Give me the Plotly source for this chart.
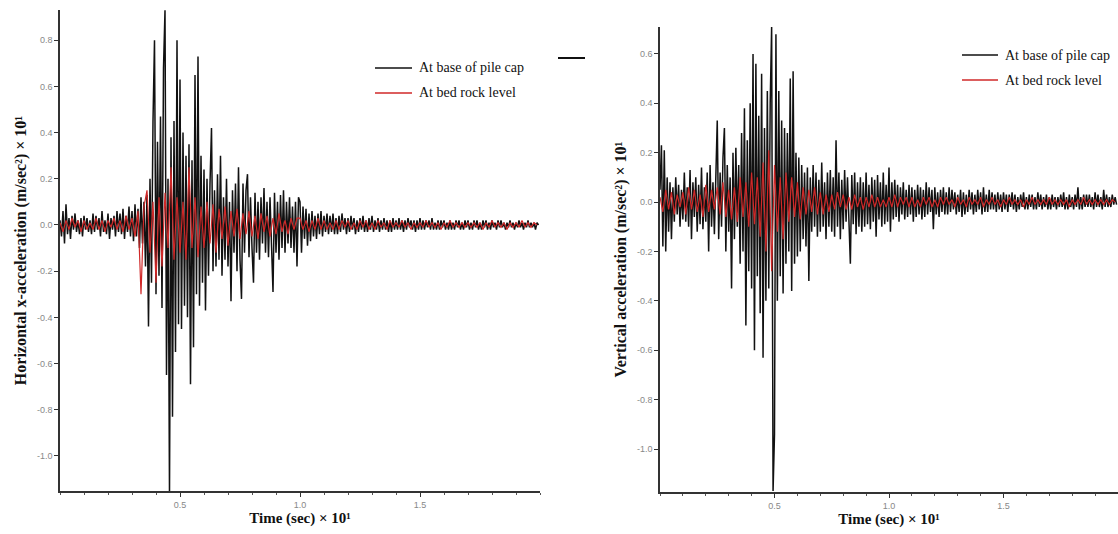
import numpy as np
import plotly.graph_objects as go

# Acceleration time histories (Time in sec x 10^1, acceleration in m/sec^2 x 10^1)
DT_CAP = 0.00625   # sampling step of the pile-cap records
DT_ROCK = 0.0125   # sampling step of the bed-rock records

horiz_cap = [
    0.02, -0.05, 0.06, -0.08, 0.09, -0.04, 0.03, -0.06, 0.04, -0.02, 0.05, -0.03, 0.02, -0.04, 0.03, -0.05, 0.04, -0.02, 0.03, -0.03,
    0.02, -0.04, 0.05, -0.03, 0.04, -0.02, 0.03, -0.05, 0.06, -0.03, 0.02, -0.04, 0.05, -0.06, 0.03, -0.02, 0.04, -0.05, 0.06, -0.03,
    0.05, -0.04, 0.07, -0.06, 0.04, -0.03, 0.08, -0.05, 0.06, -0.07, 0.09, -0.05, 0.07, -0.10, 0.12, -0.08, 0.10, -0.18, 0.13, -0.44,
    0.20, -0.25, 0.45, 0.80, -0.30, 0.36, -0.22, 0.47, -0.36, 0.68, 0.93, -0.65, 0.20, -1.16, 0.38, -0.83, 0.45, -0.55, 0.80, -0.43,
    0.63, -0.45, 0.40, -0.35, 0.30, -0.40, 0.35, -0.69, 0.28, -0.53, 0.65, -0.30, 0.73, -0.35, 0.30, -0.25, 0.24, -0.37, 0.20, -0.22,
    0.18, 0.42, -0.20, 0.15, -0.18, 0.22, -0.15, 0.30, -0.22, 0.12, -0.15, 0.20, -0.18, 0.10, -0.33, 0.15, -0.12, 0.18, -0.20, 0.25,
    -0.15, -0.32, 0.18, -0.12, 0.15, 0.22, -0.14, 0.12, -0.10, -0.25, 0.14, -0.12, 0.10, -0.15, 0.12, -0.08, 0.16, -0.12, 0.10, -0.14,
    0.12, -0.10, -0.29, 0.14, -0.12, 0.10, -0.15, 0.13, -0.10, 0.15, -0.12, 0.10, -0.08, 0.12, -0.10, 0.08, -0.12, 0.10, -0.18, 0.12,
    0.10, -0.12, 0.08, -0.06, 0.07, -0.09, 0.05, -0.07, 0.06, -0.05, 0.04, -0.06, 0.05, -0.04, 0.06, -0.05, 0.04, -0.03, 0.05, -0.04,
    0.04, -0.03, 0.05, -0.04, 0.03, -0.04, 0.04, -0.03, 0.05, -0.02, 0.03, -0.04, 0.03, -0.03, 0.04, -0.02, 0.03, -0.04, 0.02, -0.03,
    0.03, -0.02, 0.04, -0.03, 0.02, -0.03, 0.03, -0.02, 0.04, -0.03, 0.02, -0.02, 0.03, -0.03, 0.02, -0.02, 0.03, -0.02, 0.02, -0.03,
    0.02, -0.03, 0.03, -0.02, 0.02, -0.02, 0.03, -0.02, 0.02, -0.03, 0.02, -0.02, 0.03, -0.01, 0.02, -0.02, 0.02, -0.03, 0.02, -0.02,
    0.03, -0.02, 0.02, -0.02, 0.02, -0.01, 0.02, -0.02, 0.03, -0.02, 0.01, -0.02, 0.02, -0.02, 0.02, -0.01, 0.02, -0.02, 0.01, -0.02,
    0.02, -0.02, 0.01, -0.02, 0.02, -0.01, 0.02, -0.02, 0.01, -0.02, 0.02, -0.01, 0.02, -0.02, 0.01, -0.02, 0.02, -0.01, 0.02, -0.02,
    0.01, -0.02, 0.02, -0.01, 0.02, -0.02, 0.01, -0.02, 0.02, -0.01, 0.01, -0.02, 0.02, -0.01, 0.02, -0.01, 0.01, -0.02, 0.01, -0.01,
    0.02, -0.01, 0.01, -0.02, 0.01, -0.01, 0.02, -0.01, 0.01, -0.02, 0.01, -0.01, 0.02, -0.01, 0.01, -0.01, 0.01, -0.02, 0.01, 0.00,
]

horiz_rock = [
    0.01, -0.03, 0.02, -0.02, 0.03, -0.01, 0.02, -0.03, 0.02, -0.02, 0.01, -0.02, 0.03, -0.02, 0.02, -0.03, 0.02, -0.01, 0.03, -0.02,
    0.02, -0.03, 0.04, -0.02, 0.03, -0.05, 0.06, -0.30, 0.08, 0.15, -0.12, 0.10, -0.25, 0.12, -0.18, 0.14, -0.10, 0.25, -0.15, 0.12,
    -0.12, 0.10, -0.15, 0.25, -0.10, 0.12, -0.14, 0.08, -0.10, 0.10, -0.08, 0.09, -0.12, 0.07, -0.06, 0.08, -0.09, 0.06, -0.05, 0.07,
    -0.06, 0.05, -0.04, 0.06, -0.05, 0.04, -0.06, 0.05, -0.03, 0.04, -0.05, 0.03, -0.04, 0.05, -0.03, 0.02, -0.04, 0.03, -0.02, 0.03,
    0.03, -0.02, 0.02, -0.03, 0.02, -0.02, 0.03, -0.02, 0.02, -0.02, 0.01, -0.02, 0.02, -0.02, 0.02, -0.01, 0.02, -0.02, 0.01, -0.02,
    0.02, -0.01, 0.02, -0.02, 0.01, -0.02, 0.02, -0.01, 0.01, -0.02, 0.02, -0.01, 0.01, -0.01, 0.02, -0.01, 0.01, -0.02, 0.01, -0.01,
    0.01, -0.01, 0.02, -0.01, 0.01, -0.01, 0.01, -0.02, 0.01, -0.01, 0.02, -0.01, 0.01, -0.01, 0.01, -0.01, 0.01, -0.01, 0.01, -0.01,
    0.01, -0.02, 0.01, -0.01, 0.02, -0.01, 0.01, -0.01, 0.01, -0.02, 0.01, -0.01, 0.01, -0.01, 0.02, -0.01, 0.01, -0.01, 0.01, 0.00,
]

vert_cap = [
    0.05, 0.23, -0.18, 0.21, -0.20, 0.10, -0.12, 0.08, -0.15, 0.06, -0.08, 0.10, -0.05, 0.07, -0.10, 0.05, -0.07, 0.12, -0.08, 0.06,
    -0.10, 0.13, -0.15, 0.08, -0.06, 0.10, -0.12, 0.07, -0.09, 0.14, -0.11, 0.06, -0.08, 0.12, -0.20, 0.15, -0.10, 0.08, -0.13, 0.18,
    0.33, -0.15, 0.12, -0.10, 0.18, 0.30, -0.20, 0.15, -0.12, 0.10, -0.35, 0.20, -0.15, 0.22, -0.10, 0.15, -0.25, 0.28, -0.20, 0.38,
    -0.50, 0.25, -0.28, 0.40, -0.35, 0.60, -0.60, 0.56, -0.30, 0.35, -0.45, 0.52, -0.63, 0.30, -0.40, 0.45, -0.35, 0.40, 0.71, -1.17,
    -0.94, 0.68, -0.40, 0.45, -0.30, 0.33, -0.37, 0.30, -0.25, 0.28, -0.20, 0.50, -0.36, 0.53, -0.25, 0.20, -0.22, 0.18, -0.20, 0.15,
    -0.15, 0.12, -0.18, 0.14, -0.32, 0.10, -0.12, 0.15, -0.10, 0.12, -0.14, 0.09, -0.12, 0.16, -0.10, 0.08, -0.15, 0.12, -0.10, 0.13,
    -0.12, 0.10, -0.14, 0.25, -0.10, 0.12, -0.15, 0.09, -0.11, 0.13, -0.08, 0.10, -0.12, -0.25, 0.11, -0.09, 0.12, -0.13, 0.08, -0.10,
    0.10, -0.12, 0.08, -0.10, 0.12, -0.09, 0.07, -0.11, 0.10, -0.08, 0.09, -0.14, 0.11, -0.07, 0.08, -0.10, 0.12, -0.09, 0.07, -0.08,
    0.14, -0.12, 0.08, -0.07, 0.09, -0.06, 0.07, -0.08, 0.06, -0.05, 0.08, -0.07, 0.05, -0.06, 0.07, -0.05, 0.06, -0.08, 0.05, -0.06,
    0.07, -0.05, 0.06, -0.07, 0.05, -0.06, 0.08, -0.05, 0.06, -0.04, 0.05, -0.11, 0.06, -0.05, 0.04, -0.06, 0.05, -0.04, 0.06, -0.05,
    0.04, -0.05, 0.06, -0.04, 0.05, -0.03, 0.04, -0.05, 0.03, -0.04, 0.05, -0.06, 0.04, -0.05, 0.03, -0.04, 0.05, -0.03, 0.04, -0.05,
    0.03, -0.04, 0.05, -0.03, 0.04, -0.05, 0.06, -0.04, 0.03, -0.04, 0.05, -0.03, 0.04, -0.03, 0.03, -0.04, 0.04, -0.03, 0.03, -0.04,
    0.04, -0.03, 0.03, -0.04, 0.03, -0.02, 0.04, -0.03, 0.03, -0.04, 0.02, -0.03, 0.03, -0.02, 0.04, -0.03, 0.02, -0.03, 0.03, -0.02,
    0.03, -0.03, 0.02, -0.03, 0.04, -0.02, 0.03, -0.03, 0.02, -0.02, 0.03, -0.03, 0.02, -0.03, 0.03, -0.02, 0.02, -0.03, 0.02, -0.02,
    0.03, -0.02, 0.04, -0.03, 0.02, -0.03, 0.03, -0.02, 0.02, -0.03, 0.03, -0.02, 0.06, -0.03, 0.02, -0.03, 0.03, -0.02, 0.03, -0.02,
    0.03, -0.02, 0.02, -0.03, 0.04, -0.02, 0.03, -0.02, 0.02, -0.03, 0.05, -0.02, 0.03, -0.02, 0.02, -0.02, 0.03, -0.01, 0.02, -0.01,
]

vert_rock = [
    0.02, -0.04, 0.05, -0.03, 0.04, -0.05, 0.03, -0.02, 0.04, -0.05, 0.06, -0.03, 0.05, -0.04, 0.03, -0.06, 0.07, -0.04, 0.05, -0.03,
    0.06, -0.05, 0.08, -0.06, 0.05, -0.07, 0.06, -0.08, 0.10, -0.06, 0.08, -0.10, 0.12, -0.09, 0.10, -0.14, 0.16, -0.20, 0.21, -0.28,
    0.15, -0.12, 0.10, -0.15, 0.12, -0.08, 0.10, -0.06, 0.08, -0.07, 0.06, -0.05, 0.05, -0.04, 0.06, -0.05, 0.04, -0.05, 0.03, -0.04,
    0.03, -0.03, 0.04, -0.02, 0.03, -0.03, 0.02, -0.03, 0.03, -0.02, 0.02, -0.03, 0.02, -0.02, 0.03, -0.02, 0.02, -0.02, 0.01, -0.02,
    0.02, -0.02, 0.03, -0.02, 0.02, -0.01, 0.02, -0.02, 0.02, -0.02, 0.01, -0.02, 0.02, -0.01, 0.02, -0.02, 0.01, -0.02, 0.02, -0.01,
    0.02, -0.01, 0.01, -0.02, 0.02, -0.01, 0.01, -0.02, 0.02, -0.01, 0.01, -0.01, 0.02, -0.02, 0.01, -0.01, 0.02, -0.01, 0.01, -0.02,
    0.01, -0.01, 0.02, -0.01, 0.01, -0.01, 0.01, -0.02, 0.01, -0.01, 0.02, -0.01, 0.01, -0.01, 0.01, -0.01, 0.02, -0.01, 0.01, -0.01,
    0.01, -0.01, 0.01, -0.02, 0.01, -0.01, 0.01, -0.01, 0.02, -0.01, 0.01, -0.01, 0.01, -0.01, 0.01, -0.01, 0.01, -0.01, 0.01, 0.00,
]

x_tick_vals = [0.5, 1.0, 1.5]
x_tick_text = ["0.5", "1.0", "1.5"]
left_y_vals = [0.8, 0.6, 0.4, 0.2, 0.0, -0.2, -0.4, -0.6, -0.8, -1.0]
right_y_vals = [0.6, 0.4, 0.2, 0.0, -0.2, -0.4, -0.6, -0.8, -1.0]

series_names = ["At base of pile cap", "At bed rock level"]
CAP_COLOR = "#111111"
ROCK_COLOR = "#d02828"

t_cap = np.arange(len(horiz_cap)) * DT_CAP
t_rock = np.arange(len(horiz_rock)) * DT_ROCK

W, H = 1118, 534


def px(x):
    return x / W


def py(y):
    return 1 - y / H


fig = go.Figure()
for xa, ya, cap, rock in [("x", "y", horiz_cap, horiz_rock), ("x2", "y2", vert_cap, vert_rock)]:
    fig.add_trace(go.Scatter(x=t_cap, y=cap, mode="lines", name=series_names[0],
                             line=dict(color=CAP_COLOR, width=1.5), xaxis=xa, yaxis=ya,
                             showlegend=False))
    fig.add_trace(go.Scatter(x=t_rock, y=rock, mode="lines", name=series_names[1],
                             line=dict(color=ROCK_COLOR, width=1.2), xaxis=xa, yaxis=ya,
                             showlegend=False))

tick_font = dict(family="Arial, Liberation Sans", size=9, color="#888888")
x_title_font = dict(family="Liberation Serif", size=15, color="#111111")
y_title_font = dict(family="Liberation Serif", size=16, color="#111111")


def fmt(v):
    return f"{v:.1f}"


x_common = dict(range=[0, 2.0], tickvals=x_tick_vals, ticktext=x_tick_text,
                ticks="outside", ticklen=4, tickcolor="#333", tickfont=tick_font,
                showline=True, linecolor="#333", linewidth=1.5, showgrid=False,
                zeroline=False, minor=dict(dtick=0.1, ticks="outside", ticklen=2,
                                           tickcolor="#555"))
y_common = dict(ticks="outside", ticklen=4, tickcolor="#333", tickfont=tick_font,
                showline=True, linecolor="#333", linewidth=1.5, showgrid=False,
                zeroline=False)

time_title = "<b>Time (sec) × 10¹</b>"

fig.update_layout(
    width=W, height=H,
    margin=dict(l=0, r=0, t=0, b=0),
    paper_bgcolor="white", plot_bgcolor="white",
    xaxis=dict(domain=[px(60), px(540)], anchor="y",
               title=dict(text=time_title, font=x_title_font, standoff=4),
               **x_common),
    yaxis=dict(domain=[py(491), py(10)], anchor="x", range=[-1.152, 0.931],
               tickvals=left_y_vals, ticktext=[fmt(v) for v in left_y_vals],
               title=dict(text="<b>Horizontal x-acceleration (m/sec²) × 10¹</b>",
                          font=y_title_font, standoff=6),
               **y_common),
    xaxis2=dict(domain=[px(660), 1.0], anchor="y2",
                title=dict(text=time_title, font=x_title_font, standoff=4),
                **x_common),
    yaxis2=dict(domain=[py(492), py(27)], anchor="x2", range=[-1.174, 0.709],
                tickvals=right_y_vals, ticktext=[fmt(v) for v in right_y_vals],
                title=dict(text="<b>Vertical acceleration (m/sec²) × 10¹</b>",
                           font=y_title_font, standoff=6),
                **y_common),
)

# Legend keys drawn as short line samples with labels
legend_font = dict(family="Liberation Serif", size=14, color="#111111")
legend_rows = [
    (375, 412, 68, CAP_COLOR, series_names[0]),
    (375, 412, 93, ROCK_COLOR, series_names[1]),
    (962, 998, 55, CAP_COLOR, series_names[0]),
    (962, 998, 80, ROCK_COLOR, series_names[1]),
]
for x0, x1, y, color, label in legend_rows:
    fig.add_shape(type="line", xref="paper", yref="paper",
                  x0=px(x0), x1=px(x1), y0=py(y), y1=py(y),
                  line=dict(color=color, width=1.5))
    fig.add_annotation(xref="paper", yref="paper", x=px(x1 + 5), y=py(y),
                       text=label, showarrow=False, xanchor="left", yanchor="middle",
                       font=legend_font)

# short stray key mark between the panels
fig.add_shape(type="line", xref="paper", yref="paper",
              x0=px(558), x1=px(585), y0=py(58), y1=py(58),
              line=dict(color="#111111", width=2))

fig.write_html("out.html")
